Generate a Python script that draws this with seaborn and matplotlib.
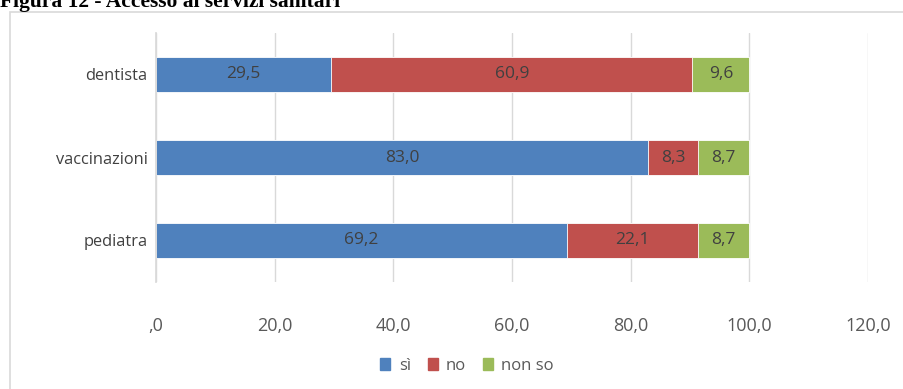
import pandas as pd
import matplotlib.pyplot as plt
from matplotlib.patches import Rectangle
import seaborn as sns

# data
categories = ['dentista', 'vaccinazioni', 'pediatra']
si = [29.5, 83.0, 69.2]
no = [60.9, 8.3, 22.1]
non_so = [9.6, 8.7, 8.7]
series_names = ['sì', 'no', 'non so']
colors = ['#4F81BD', '#C0504D', '#9BBB59']
xticks = [0, 20, 40, 60, 80, 100, 120]
xtick_labels = [',0', '20,0', '40,0', '60,0', '80,0', '100,0', '120,0']

df = pd.DataFrame({'cat': categories, 'sì': si, 'no': no, 'non so': non_so})
# cumulative ends for the stacked segments
df['end_si'] = df['sì']
df['end_no'] = df['sì'] + df['no']
df['end_nonso'] = df['end_no'] + df['non so']

sns.set_theme(style='white')
plt.rcParams['font.family'] = ['Open Sans', 'DejaVu Sans']

fig = plt.figure(figsize=(9.04, 3.89), dpi=100)
# outer chart frame
fig.patches.append(Rectangle((10 / 904, -0.05), 1.0, 1 - 12 / 389 + 0.05,
                             transform=fig.transFigure, fill=False,
                             edgecolor='#D9D9D9', linewidth=1.2))
# title is cropped at the top edge in the original
fig.text(0.0, 1 - 7 / 389, 'Figura 12 - Accesso ai servizi sanitari',
         family='Liberation Serif', weight='bold', fontsize=15.5,
         va='baseline', ha='left', color='black')

ax = fig.add_axes([156 / 904, 1 - 282 / 389, 712 / 904, 249 / 389])

# draw longest first, shorter ones on top -> stacked look
for col, color in zip(['end_nonso', 'end_no', 'end_si'], colors[::-1]):
    sns.barplot(data=df, x=col, y='cat', color=color, width=0.41,
                saturation=1, ax=ax, edgecolor='white', linewidth=0.6)

# segment labels
for i, row in df.iterrows():
    starts = [0, row['end_si'], row['end_no']]
    vals = [row['sì'], row['no'], row['non so']]
    for s, v in zip(starts, vals):
        ax.text(s + v / 2, i, f'{v:.1f}'.replace('.', ','), ha='center',
                va='center', fontsize=12.5, color='#404040')

ax.set_xlim(0, 120)
ax.set_ylim(2.5, -0.5)
ax.set_xticks(xticks)
ax.set_xticklabels(xtick_labels)
ax.xaxis.grid(True, color='#D9D9D9', linewidth=1)
ax.set_axisbelow(True)
ax.set_xlabel('')
ax.set_ylabel('')
for side in ['top', 'right', 'bottom']:
    ax.spines[side].set_visible(False)
ax.spines['left'].set_color('#D9D9D9')
ax.tick_params(axis='x', labelsize=13, colors='#595959', pad=25, length=0,
               bottom=False)
ax.tick_params(axis='y', labelsize=11.8, colors='#404040', pad=6, length=0,
               left=False)

handles = [Rectangle((0, 0), 1, 1, color=c) for c in colors]
fig.legend(handles, series_names, loc='center', bbox_to_anchor=(467 / 904, 1 - 366 / 389),
           ncol=3, frameon=False, fontsize=12, handlelength=0.6, handleheight=0.7,
           handletextpad=0.5, columnspacing=1.0, labelcolor='#595959')

fig.savefig('out.png', dpi=100)
